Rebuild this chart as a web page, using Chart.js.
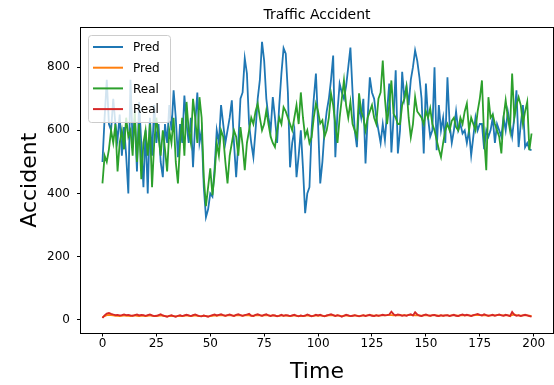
<!DOCTYPE html>
<html>
<head>
<meta charset="utf-8">
<script src="https://cdn.jsdelivr.net/npm/chart.js@4.4.1/dist/chart.umd.min.js"></script>
<style>
  html, body { margin: 0; padding: 0; background: #fff; }
</style>
</head>
<body>
<canvas id="chart" width="554" height="385"></canvas>
<script>
// values (200 time steps each)
const predMain = [
  500, 640, 760, 620, 600, 700, 620, 570, 650, 520,
  610, 520, 400, 760, 560, 640, 470, 690, 560, 420,
  600, 400, 640, 520, 680, 560, 620, 500, 452, 620,
  560, 680, 600, 727, 640, 515, 620, 560, 710, 620,
  560, 640, 483, 620, 720, 560, 600, 420, 325, 350,
  400, 390, 480, 600, 560, 680, 620, 560, 600, 640,
  695, 560, 452, 560, 700, 720, 828, 780, 620, 560,
  515, 600, 700, 760, 880, 820, 700, 640, 600, 705,
  640, 560, 680, 780, 860, 843, 720, 483, 560, 600,
  452, 520, 600, 480, 338, 400, 420, 600, 700, 780,
  620, 432, 500, 600, 660, 700, 760, 837, 515, 660,
  748, 720, 700, 740, 800, 862, 720, 600, 547, 680,
  640, 700, 495, 640, 768, 720, 700, 640, 600, 560,
  620, 569, 660, 748, 530, 640, 790, 527, 600, 785,
  700, 740, 680, 760, 800, 853, 820, 768, 700, 527,
  748, 640, 580, 600, 800, 537, 680, 600, 640, 560,
  768, 620, 560, 600, 660, 600, 620, 590, 600, 560,
  600, 521, 580, 640, 600, 620, 620, 540, 600, 580,
  600, 640, 560, 620, 600, 580, 640, 600, 660, 620,
  580, 640, 727, 547, 620, 680, 547, 560, 540, 537
];

const predLow = [
  8, 12, 15, 16, 15, 14, 13, 13, 12, 13, 14, 13, 13, 12, 13, 14, 13, 12, 13, 13,
  12, 13, 14, 13, 12, 12, 13, 14, 13, 12, 11, 12, 13, 12, 11, 12, 13, 12, 13, 14,
  13, 12, 13, 14, 13, 12, 12, 13, 12, 11, 12, 13, 14, 13, 14, 15, 14, 13, 14, 15,
  14, 13, 14, 15, 14, 13, 14, 15, 14, 13, 13, 14, 15, 14, 13, 14, 15, 14, 13, 14,
  13, 12, 13, 14, 13, 14, 13, 12, 13, 14, 13, 12, 13, 12, 13, 14, 13, 12, 13, 14,
  13, 14, 13, 12, 13, 14, 15, 14, 13, 14, 13, 12, 13, 14, 13, 12, 13, 14, 13, 12,
  13, 14, 13, 14, 15, 14, 13, 14, 13, 14, 15, 14, 15, 16, 15, 14, 15, 14, 15, 14,
  15, 14, 15, 16, 15, 14, 15, 14, 13, 14, 15, 14, 13, 14, 15, 14, 13, 14, 13, 14,
  14, 13, 14, 15, 14, 13, 14, 15, 14, 15, 14, 13, 14, 15, 16, 15, 14, 15, 14, 13,
  14, 15, 14, 15, 16, 15, 14, 15, 14, 13, 15, 17, 15, 14, 13, 14, 15, 14, 13, 12
];

const realMain = [
  432, 520, 500, 540, 600, 560, 620, 470, 560, 600,
  540, 640, 580, 600, 520, 660, 500, 620, 445, 560,
  600, 520, 620, 420, 560, 640, 580, 520, 600, 540,
  470, 600, 560, 640, 500, 432, 560, 640, 520, 690,
  600, 560, 700, 640, 560, 705, 640, 450, 360, 420,
  480, 395, 460, 560, 520, 600, 580, 500, 432, 520,
  560, 600, 580, 520, 610, 553, 474, 560, 600, 640,
  620, 660, 685, 640, 600, 620, 663, 620, 580, 560,
  547, 600, 640, 620, 673, 660, 640, 620, 600, 640,
  680, 620, 720, 640, 580, 600, 560, 578, 640, 685,
  660, 622, 632, 580, 600, 640, 717, 680, 620, 560,
  640, 700, 758, 680, 640, 690, 620, 600, 580, 717,
  660, 640, 600, 640, 660, 680, 640, 620, 700, 720,
  821, 700, 620, 680, 758, 653, 640, 620, 620, 680,
  700, 737, 640, 578, 620, 705, 660, 650, 640, 620,
  660, 640, 670, 620, 600, 569, 540, 515, 560, 600,
  620, 600, 630, 640, 610, 600, 640, 620, 660, 685,
  600, 640, 620, 600, 660, 700, 758, 580, 474, 705,
  640, 650, 620, 600, 580, 527, 640, 695, 640, 600,
  780, 640, 680, 705, 680, 620, 660, 690, 537, 590
];

const realLow = [
  6, 14, 20, 22, 19, 17, 15, 16, 14, 15, 17, 15, 16, 14, 13, 15, 17, 14, 16, 15,
  13, 15, 17, 14, 12, 13, 15, 18, 14, 12, 10, 13, 15, 12, 10, 13, 15, 12, 14, 16,
  14, 12, 15, 17, 14, 12, 11, 14, 12, 10, 13, 15, 17, 14, 16, 18, 15, 13, 15, 17,
  14, 12, 16, 18, 15, 13, 15, 17, 19, 13, 12, 16, 18, 15, 13, 16, 18, 14, 12, 15,
  14, 11, 13, 16, 13, 15, 14, 12, 14, 16, 13, 11, 14, 12, 13, 17, 14, 11, 13, 16,
  14, 16, 13, 11, 14, 16, 18, 15, 12, 15, 13, 10, 13, 16, 14, 12, 13, 15, 13, 11,
  13, 15, 12, 14, 16, 13, 12, 15, 13, 14, 16, 14, 15, 17, 26, 18, 14, 17, 16, 13,
  15, 13, 16, 18, 14, 24, 17, 13, 12, 15, 17, 14, 13, 15, 16, 13, 12, 15, 13, 14,
  15, 12, 14, 16, 13, 12, 15, 17, 14, 16, 14, 12, 15, 17, 19, 16, 14, 18, 15, 13,
  14, 16, 13, 15, 17, 14, 13, 16, 14, 12, 25, 16, 13, 15, 12, 14, 16, 14, 12, 10
];

const xTicks = [0, 25, 50, 75, 100, 125, 150, 175, 200];
const yTicks = [0, 200, 400, 600, 800];
const seriesLabels = ["Pred", "Pred", "Real", "Real"];
const seriesColors = ["#1f77b4", "#ff7f0e", "#2ca02c", "#d62728"];

const FONT = "'DejaVu Sans', sans-serif";

// pair each value with its time step
function toPoints(values) {
  return values.map((v, i) => ({ x: i, y: v }));
}

// title over the plot, box round the plot and the legend in the top-left corner
const framePlugin = {
  id: "frame",
  afterDatasetsDraw(chart) {
    const { ctx, chartArea } = chart;
    const { left, right, top, bottom } = chartArea;
    ctx.save();

    // legend box
    const bx = 88, by = 35, bw = 82, bh = 87;
    ctx.fillStyle = "rgba(255,255,255,0.8)";
    ctx.strokeStyle = "#cccccc";
    ctx.lineWidth = 1;
    ctx.beginPath();
    ctx.roundRect(bx + 0.5, by + 0.5, bw, bh, 3);
    ctx.fill();
    ctx.stroke();

    ctx.font = "12px " + FONT;
    ctx.textBaseline = "middle";
    ctx.textAlign = "left";
    seriesLabels.forEach((label, i) => {
      const rowY = 47 + i * 20.7;
      ctx.strokeStyle = seriesColors[i];
      ctx.lineWidth = 2;
      ctx.beginPath();
      ctx.moveTo(93, rowY);
      ctx.lineTo(123, rowY);
      ctx.stroke();
      ctx.fillStyle = "#000";
      ctx.fillText(label, 133, rowY + 1);
    });

    // spines
    ctx.strokeStyle = "#000";
    ctx.lineWidth = 1;
    ctx.strokeRect(Math.round(left) - 0.5, Math.round(top) - 0.5,
      Math.round(right - left) + 1, Math.round(bottom - top) + 1);

    // title
    ctx.fillStyle = "#000";
    ctx.font = "14px " + FONT;
    ctx.textAlign = "center";
    ctx.textBaseline = "middle";
    ctx.fillText("Traffic Accident", (left + right) / 2, 15);
    ctx.restore();
  }
};

const datasets = [predMain, predLow, realMain, realLow].map((values, i) => ({
  label: seriesLabels[i],
  data: toPoints(values),
  borderColor: seriesColors[i],
  backgroundColor: seriesColors[i],
  borderWidth: 1.8,
  pointRadius: 0,
  tension: 0,
  fill: false,
  order: 4 - i
}));

new Chart(document.getElementById("chart"), {
  type: "line",
  data: { datasets },
  plugins: [framePlugin],
  options: {
    responsive: false,
    animation: false,
    devicePixelRatio: 1,
    layout: { padding: { top: 28, right: 1, left: 0, bottom: 0 } },
    plugins: {
      legend: { display: false },
      title: { display: false },
      tooltip: { enabled: false }
    },
    scales: {
      x: {
        type: "linear",
        min: -9.95,
        max: 208.95,
        afterBuildTicks: (scale) => {
          scale.ticks = xTicks.map((v) => ({ value: v }));
        },
        afterFit: (scale) => { scale.height = 52.5; },
        grid: { drawOnChartArea: false, drawTicks: true, tickLength: 4, color: "#000" },
        border: { display: false },
        ticks: { color: "#000", padding: 0, maxRotation: 0, font: { size: 12, family: FONT } },
        title: {
          display: true,
          text: "Time",
          color: "#000",
          font: { size: 22, family: FONT },
          padding: { top: 0, bottom: 0 }
        }
      },
      y: {
        min: -40,
        max: 924,
        afterBuildTicks: (scale) => {
          scale.ticks = yTicks.map((v) => ({ value: v }));
        },
        afterFit: (scale) => { scale.width = 81; },
        grid: { drawOnChartArea: false, drawTicks: true, tickLength: 4, color: "#000" },
        border: { display: false },
        ticks: { color: "#000", padding: 7, font: { size: 12, family: FONT } },
        title: {
          display: true,
          text: "Accident",
          color: "#000",
          font: { size: 22, family: FONT },
          padding: { top: 17, bottom: 0 }
        }
      }
    }
  }
});
</script>
</body>
</html>
